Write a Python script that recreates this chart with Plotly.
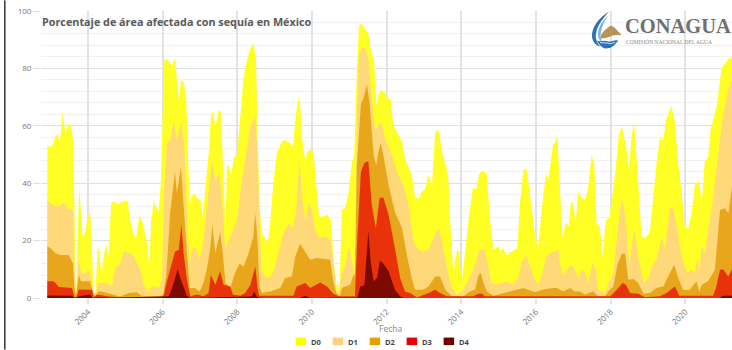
import base64
import plotly.graph_objects as go

# (decimal year, % of area). Each category includes the more severe ones.
D0 = [(2002.91,53.3),(2002.99,52.7),(2003.05,53),(2003.13,56.5),(2003.19,57),(2003.24,53.6),(2003.32,65),(2003.39,57.7),(2003.48,60.5),(2003.54,60.3),(2003.60,55),(2003.63,28),(2003.68,0.6),(2003.72,20),(2003.76,38.4),(2003.79,34),(2003.85,22),(2003.91,22),(2003.99,28),(2004.06,30),(2004.11,16.7),(2004.15,1.7),(2004.20,1.7),(2004.26,18),(2004.30,16.7),(2004.36,7.5),(2004.42,14.4),(2004.49,18.8),(2004.55,14.4),(2004.62,33),(2004.69,33.7),(2004.82,32.6),(2004.91,33.7),(2005.06,34),(2005.13,27),(2005.22,22),(2005.29,21),(2005.38,29),(2005.48,25.5),(2005.58,19),(2005.64,11),(2005.69,27),(2005.76,33.6),(2005.85,30.7),(2005.89,30),(2005.95,40),(2006.00,66.6),(2006.04,82.8),(2006.11,83.4),(2006.20,81.7),(2006.26,80.8),(2006.33,83.8),(2006.38,74.7),(2006.43,69),(2006.49,76),(2006.56,75.3),(2006.63,69),(2006.68,49),(2006.72,33),(2006.78,35.3),(2006.85,36.5),(2006.92,34.8),(2007.01,34),(2007.07,28.4),(2007.14,38.8),(2007.23,50),(2007.29,63),(2007.34,65),(2007.41,59.7),(2007.50,65.5),(2007.56,65),(2007.61,50),(2007.68,23.8),(2007.72,46),(2007.76,46),(2007.84,43),(2007.90,48.7),(2007.99,50),(2008.08,64),(2008.17,77),(2008.26,83),(2008.35,87),(2008.43,88.9),(2008.50,83),(2008.54,58.5),(2008.59,34),(2008.64,23.8),(2008.70,21.4),(2008.79,19.7),(2008.85,21.4),(2008.97,41),(2009.06,50.4),(2009.19,54.5),(2009.28,55),(2009.40,54),(2009.49,52.7),(2009.55,62),(2009.64,70),(2009.68,67.8),(2009.73,56),(2009.82,47.5),(2009.88,51),(2009.95,51.8),(2010.04,51),(2010.11,40),(2010.19,28.4),(2010.31,28.4),(2010.41,29),(2010.51,27),(2010.57,14.5),(2010.65,4),(2010.69,6.4),(2010.73,1.7),(2010.80,30.7),(2010.88,31.3),(2010.97,36),(2011.07,47.5),(2011.13,50),(2011.20,78.8),(2011.26,95),(2011.33,95.6),(2011.42,93.9),(2011.51,92),(2011.60,84.6),(2011.66,83.4),(2011.72,67),(2011.78,70.7),(2011.84,72.4),(2011.93,72),(2012.00,70),(2012.11,69),(2012.18,60),(2012.27,58),(2012.41,54.5),(2012.49,48.7),(2012.58,46),(2012.67,42.9),(2012.76,35.3),(2012.85,34.5),(2012.94,37),(2013.03,38),(2013.12,42.9),(2013.21,38.8),(2013.30,58),(2013.39,58.5),(2013.48,51),(2013.59,46),(2013.65,42),(2013.70,27),(2013.79,7.5),(2013.83,13),(2013.90,17),(2013.95,15.6),(2014.01,5),(2014.10,16.8),(2014.19,27),(2014.30,38),(2014.40,38.2),(2014.48,43.4),(2014.56,44.3),(2014.68,43.4),(2014.77,27),(2014.86,16.8),(2015.00,18),(2015.04,16),(2015.11,17.4),(2015.22,15),(2015.35,16),(2015.50,17.4),(2015.57,33),(2015.66,44.6),(2015.75,45),(2015.84,36),(2015.97,22.6),(2016.06,17.4),(2016.15,30.7),(2016.27,43.4),(2016.33,41),(2016.40,48),(2016.46,53.6),(2016.51,54),(2016.57,56.5),(2016.64,38.6),(2016.71,20.8),(2016.80,26.5),(2016.88,25),(2016.93,33.4),(2017.00,33),(2017.06,25.4),(2017.13,37),(2017.22,35),(2017.31,34),(2017.40,38.6),(2017.49,50),(2017.56,46.7),(2017.62,26),(2017.71,24.8),(2017.78,14.4),(2017.87,27),(2017.96,28),(2018.03,34),(2018.14,45.6),(2018.22,57),(2018.30,60),(2018.40,53.6),(2018.49,44.4),(2018.56,57),(2018.63,60.8),(2018.71,45.6),(2018.78,29),(2018.83,21.3),(2018.92,20.8),(2019.05,23),(2019.14,35),(2019.23,47),(2019.32,56),(2019.41,55),(2019.48,62),(2019.63,67),(2019.72,61),(2019.81,47),(2019.90,36.5),(2019.99,25),(2020.08,24),(2020.17,29.5),(2020.26,40),(2020.37,40.5),(2020.44,33),(2020.52,47.5),(2020.61,49),(2020.68,59),(2020.84,66.6),(2020.97,80),(2021.15,83.4),(2021.25,84)]

D1 = [(2002.91,34),(2002.99,32.9),(2003.13,32),(2003.22,32),(2003.35,33.4),(2003.48,31),(2003.60,30.6),(2003.63,13),(2003.68,0.6),(2003.75,13.5),(2003.82,8.7),(2003.93,8.7),(2004.04,9.8),(2004.11,4),(2004.20,0.6),(2004.28,5.2),(2004.51,5.2),(2004.64,4),(2004.73,10.4),(2004.86,12),(2004.97,16.4),(2005.21,15),(2005.40,9.8),(2005.49,4.6),(2005.61,2.3),(2005.74,4.3),(2005.89,3.5),(2005.98,6.4),(2006.04,37.7),(2006.11,53.9),(2006.20,55),(2006.29,62),(2006.38,55),(2006.49,61.4),(2006.58,52.7),(2006.65,27),(2006.72,11),(2006.78,16.8),(2006.87,18),(2006.99,13.3),(2007.09,20),(2007.21,35),(2007.32,48),(2007.41,41),(2007.52,43.5),(2007.60,32),(2007.68,16.8),(2007.81,21.4),(2007.99,27),(2008.12,41),(2008.26,51.6),(2008.35,59.7),(2008.48,63.7),(2008.54,49),(2008.59,29.5),(2008.64,9.8),(2008.75,7.5),(2008.86,7),(2008.97,9.3),(2009.10,15.6),(2009.24,22.6),(2009.37,26),(2009.49,24.3),(2009.58,30.7),(2009.66,48.7),(2009.73,35),(2009.82,27),(2009.91,33),(2010.00,30.7),(2010.08,23.8),(2010.19,20.9),(2010.35,21.4),(2010.49,20.3),(2010.57,13.3),(2010.65,3),(2010.71,1.7),(2010.80,8.7),(2010.88,11),(2010.99,18),(2011.07,13.3),(2011.15,5.8),(2011.20,63.7),(2011.26,84.6),(2011.33,87.5),(2011.42,87),(2011.51,83.4),(2011.60,68),(2011.69,58.5),(2011.78,60),(2011.84,61.4),(2011.96,55.6),(2012.05,52.7),(2012.14,49.8),(2012.27,44),(2012.45,39.4),(2012.58,32.4),(2012.72,19.7),(2012.85,16.8),(2012.98,16.2),(2013.12,16.8),(2013.25,20.9),(2013.39,24.3),(2013.48,19.7),(2013.61,11),(2013.74,3.5),(2013.88,1.2),(2014.01,2.3),(2014.15,5.2),(2014.28,8.7),(2014.41,13.3),(2014.48,16.8),(2014.63,17),(2014.72,11),(2014.81,5.2),(2014.95,4.6),(2015.22,5.8),(2015.39,4.6),(2015.53,7.5),(2015.62,12.7),(2015.74,14.7),(2015.84,11),(2015.97,6.4),(2016.06,4.6),(2016.15,7.5),(2016.29,15),(2016.47,16.2),(2016.60,16.8),(2016.64,12),(2016.73,7.5),(2016.86,10.4),(2016.96,11.5),(2017.04,9.8),(2017.13,7),(2017.22,9.8),(2017.31,9.2),(2017.40,5.2),(2017.51,12),(2017.60,9.8),(2017.67,2.9),(2017.85,1.7),(2017.94,5.2),(2018.07,8.7),(2018.16,20),(2018.25,30.6),(2018.32,34.6),(2018.41,27),(2018.50,11),(2018.61,22.5),(2018.65,23),(2018.74,14.4),(2018.88,5.2),(2019.01,7),(2019.10,11),(2019.23,13.3),(2019.37,21.4),(2019.45,16.8),(2019.59,31.3),(2019.68,31.3),(2019.77,25),(2019.90,14.5),(2020.04,8.7),(2020.17,9.8),(2020.26,8.7),(2020.32,14.5),(2020.37,8.7),(2020.44,18),(2020.52,15.6),(2020.61,23.8),(2020.75,35.3),(2020.88,50.4),(2021.01,64),(2021.15,72.4),(2021.25,76)]

D2 = [(2002.91,18),(2002.99,17.3),(2003.13,15.6),(2003.26,15),(2003.48,15),(2003.60,12),(2003.63,4),(2003.68,0.6),(2003.75,8),(2003.81,5.8),(2004.06,5.8),(2004.13,1.7),(2004.20,0.6),(2004.28,2.3),(2004.36,2.3),(2004.51,1.7),(2004.69,1.2),(2004.86,0.5),(2005.09,1.7),(2005.31,2),(2005.44,0.6),(2005.94,0.6),(2006.02,1.2),(2006.10,8.7),(2006.20,29.5),(2006.26,36),(2006.33,44),(2006.38,36.5),(2006.49,45.8),(2006.56,32),(2006.65,14.5),(2006.72,3.5),(2006.87,3.5),(2006.99,2.3),(2007.09,5.2),(2007.18,9.8),(2007.27,16.8),(2007.33,25.5),(2007.41,15.6),(2007.54,23),(2007.61,15.6),(2007.68,5.2),(2007.81,3.5),(2007.94,8.7),(2008.06,12),(2008.17,11),(2008.30,15.6),(2008.43,21.4),(2008.48,29.5),(2008.54,20),(2008.59,4),(2008.66,1.7),(2008.88,2.3),(2009.15,3.5),(2009.28,7),(2009.46,7.5),(2009.55,14.5),(2009.68,18.9),(2009.82,16),(2009.95,13.3),(2010.13,13.9),(2010.49,13.3),(2010.56,6.4),(2010.65,1.7),(2010.75,0.8),(2010.80,3.5),(2011.02,4.6),(2011.13,8.7),(2011.15,7),(2011.20,46),(2011.31,67.8),(2011.38,69.5),(2011.47,74.5),(2011.54,68.4),(2011.65,49.8),(2011.72,46.3),(2011.78,51),(2011.84,53.9),(2011.91,49.8),(2012.05,39.4),(2012.22,30),(2012.41,24.3),(2012.54,15),(2012.67,7),(2012.76,2.9),(2012.98,2.9),(2013.12,4),(2013.30,7.5),(2013.43,7.5),(2013.57,2.9),(2013.74,0.8),(2014.06,0.6),(2014.19,2),(2014.37,3),(2014.46,8),(2014.52,8.7),(2014.59,5.2),(2014.68,2.3),(2014.86,0.8),(2015.22,2),(2015.66,3.5),(2015.97,2),(2016.19,3),(2016.47,3.5),(2016.56,3.5),(2016.73,2.3),(2016.91,3.5),(2017.04,2.3),(2017.18,2.3),(2017.31,1.2),(2017.53,2.3),(2017.67,0.6),(2017.85,0.6),(2017.94,2.3),(2018.07,4),(2018.19,12),(2018.30,15.4),(2018.39,15.4),(2018.47,6.4),(2018.61,6.6),(2018.74,5.2),(2018.88,1.5),(2019.05,1.7),(2019.23,3.5),(2019.41,4),(2019.54,7.5),(2019.70,11.6),(2019.81,7),(2019.94,2.9),(2020.12,2.9),(2020.30,5.8),(2020.37,2.3),(2020.44,4.6),(2020.61,5.8),(2020.79,9.8),(2020.93,30.7),(2021.06,31.3),(2021.15,29.5),(2021.25,38.8)]

D3 = [(2002.91,5.8),(2003.08,5.8),(2003.22,3.8),(2003.57,3.5),(2003.63,0.6),(2003.69,0),(2003.75,3),(2004.11,2.9),(2004.15,0.3),(2004.24,1.2),(2004.51,0.6),(2004.86,0.3),(2005.94,0.3),(2006.02,0.6),(2006.10,5.2),(2006.20,9.8),(2006.33,16.2),(2006.43,16.8),(2006.50,25.5),(2006.56,15.6),(2006.65,6.4),(2006.74,0.6),(2006.92,1.2),(2007.09,0.6),(2007.23,1.7),(2007.29,8),(2007.41,4.6),(2007.54,9.3),(2007.63,4.6),(2007.81,4),(2007.88,1.2),(2008.08,0.8),(2008.21,1.7),(2008.35,4.6),(2008.48,11),(2008.54,3.5),(2008.59,0.8),(2009.50,0.8),(2009.59,4),(2009.82,5.2),(2009.95,3.5),(2010.22,5.4),(2010.40,4),(2010.57,1.5),(2010.71,0.6),(2011.15,0.6),(2011.20,17.4),(2011.31,44),(2011.40,47),(2011.51,47.7),(2011.60,32.4),(2011.71,24.3),(2011.81,34.8),(2011.91,35),(2012.05,29),(2012.22,17.4),(2012.36,7),(2012.49,2.3),(2012.63,1.7),(2012.81,0.2),(2013.12,1.7),(2013.30,2.9),(2013.43,1.7),(2013.61,0.6),(2014.31,0.6),(2014.46,1.5),(2014.55,1.5),(2014.63,0.6),(2016.38,0.6),(2017.99,0.6),(2018.12,2.3),(2018.21,3.5),(2018.32,5.2),(2018.41,4.6),(2018.52,1.7),(2018.74,1.5),(2018.92,0.3),(2019.32,0.6),(2019.50,1.7),(2019.72,4),(2019.84,0.8),(2020.74,0.8),(2020.82,3.5),(2020.93,9.8),(2021.01,10),(2021.15,7.5),(2021.25,10)]

D4 = [(2002.91,0.9),(2003.57,0.8),(2003.63,0),(2003.75,0.6),(2004.06,1.2),(2004.12,0),(2004.28,0.3),(2004.59,0.1),(2006.16,0.6),(2006.25,3.5),(2006.33,7),(2006.40,10),(2006.47,7),(2006.58,3.5),(2006.65,0.8),(2006.74,0),(2008.39,0.5),(2008.45,2.3),(2008.52,0.5),(2008.59,0),(2009.68,0),(2009.82,0.8),(2009.95,0),(2011.22,0.2),(2011.29,4),(2011.40,4.4),(2011.51,23.2),(2011.57,12.7),(2011.65,5.8),(2011.74,7),(2011.82,13),(2011.91,12),(2012.05,9.3),(2012.22,2.9),(2012.36,0.6),(2012.45,0),(2020.93,0),(2021.00,0.8),(2021.25,0.8)]

tick_years = [2004, 2006, 2008, 2010, 2012, 2014, 2016, 2018, 2020]
series = ["D0", "D1", "D2", "D3", "D4"]
fills = ["#ffff26", "#ffd87a", "#e8a61c", "#e8320a", "#7d0a00"]
swatches = ["#ffff00", "#ffd080", "#e6a000", "#e60000", "#730000"]

W, H = 732, 350
L, T, B = 40.7, 10.5, 51.7
px = lambda x: (x - L) / (W - L)
py = lambda y: 1 - (y - T) / (H - T - B)

fig = go.Figure()
for name, data, color in zip(series, [D0, D1, D2, D3, D4], fills):
    fig.add_trace(go.Scatter(x=[d[0] for d in data], y=[d[1] for d in data], name=name,
                             mode="lines", line=dict(width=0, color=color),
                             fill="tozeroy", fillcolor=color, showlegend=False))

shapes = [dict(type="line", xref="paper", yref="paper", x0=px(4.5), x1=px(4.5), y0=py(0), y1=py(350),
               line=dict(color="#333333", width=1.5))]
annotations = [
    dict(text="<b>Porcentaje de área afectada con sequía en México</b>", xref="paper", yref="paper",
         x=px(40), y=py(21), xanchor="left", yanchor="middle", showarrow=False,
         font=dict(family="Open Sans", size=10.8, color="#5a5a5a")),
    dict(text="<b>CONAGUA</b>", xref="paper", yref="paper", x=px(623), y=py(26), xanchor="left", yanchor="middle",
         showarrow=False, font=dict(family="Liberation Serif", size=20.5, color="#707070")),
    dict(text="COMISIÓN NACIONAL DEL AGUA", xref="paper", yref="paper", x=px(624), y=py(41), xanchor="left",
         yanchor="middle", showarrow=False, font=dict(family="Liberation Serif", size=5.5, color="#8a8a8a")),
    dict(text="Fecha", xref="paper", yref="paper", x=px(390), y=py(329), xanchor="center", yanchor="middle",
         showarrow=False, font=dict(family="Open Sans", size=8.5, color="#888888")),
]
for i, (name, sw) in enumerate(zip(series, swatches)):
    x0 = 295.5 + 37 * i
    shapes.append(dict(type="rect", xref="paper", yref="paper", x0=px(x0), x1=px(x0 + 10.5), y0=py(338), y1=py(345.5),
                       fillcolor=sw, line=dict(width=0)))
    annotations.append(dict(text=f"<b>{name}</b>", xref="paper", yref="paper", x=px(x0 + 13.5), y=py(342),
                            xanchor="left", yanchor="middle", showarrow=False,
                            font=dict(family="Open Sans", size=7.5, color="#444444")))

logo_svg = """<svg xmlns='http://www.w3.org/2000/svg' width='32' height='40' viewBox='0 0 32 40'>
<path d='M18 1 C8 7 0 17 1 27 C2 32 5 35 9 36 C6 32 4 28 5 23 C6 15 12 8 18 1Z' fill='#2b72b8'/>
<path d='M17 5 C11 11 7 17 7 24 C7 28 9 31 11 32 C10 28 9 25 10 21 C11 15 14 10 17 5Z' fill='#7fb2dc'/>
<path d='M10 25 C12 20 16 18 20 15 C23 17 25 18 27 21 C29 22 30 24 30 25 C26 24 24 25 21 25 C18 27 13 28 10 28Z' fill='#b8925a'/>
<path d='M6 30 C10 32 13 29 17 31 C20 32 23 29 27 30 C24 35 20 38 15 38 C11 38 8 34 6 30Z' fill='#2b72b8'/>
<path d='M9 32 C12 33 15 32 18 33 C20 34 22 32 24 32' stroke='#ffffff' stroke-width='0.8' fill='none'/>
</svg>"""
logo_src = "data:image/svg+xml;base64," + base64.b64encode(logo_svg.encode()).decode()

fig.update_layout(
    width=W, height=H, margin=dict(l=L, r=0, t=T, b=B), autosize=False,
    paper_bgcolor="white", plot_bgcolor="white", showlegend=False,
    font=dict(family="Open Sans", color="#777777"),
    shapes=shapes, annotations=annotations,
    images=[dict(source=logo_src, xref="paper", yref="paper", x=px(591), y=py(10), sizex=32 / (W - L),
                 sizey=40 / (H - T - B), xanchor="left", yanchor="top", sizing="stretch", layer="above")],
    xaxis=dict(range=[2002.74, 2021.25], tickmode="array", tickvals=tick_years, ticktext=[str(y) for y in tick_years],
               tickangle=-45, tickfont=dict(size=8, color="#777777"), showgrid=True, gridcolor="#e2e2e2", gridwidth=1.5,
               ticks="outside", ticklen=5, tickcolor="#e2e2e2", tickwidth=1.5, zeroline=False, showline=False),
    yaxis=dict(range=[0, 100], tickmode="array", tickvals=[0, 20, 40, 60, 80, 100],
               tickfont=dict(size=8, color="#777777"), showgrid=True, gridcolor="#e0e0e0", gridwidth=1,
               ticks="outside", ticklen=7, tickcolor="#e0e0e0", zeroline=False, showline=False,
               minor=dict(tickmode="array", tickvals=[v for v in range(4, 100, 4) if v % 20], showgrid=True,
                          gridcolor="#f1f1f1", gridwidth=1)),
)
fig.write_html("out.html", config=dict(displayModeBar=False), post_script="document.body.style.margin='0';")
